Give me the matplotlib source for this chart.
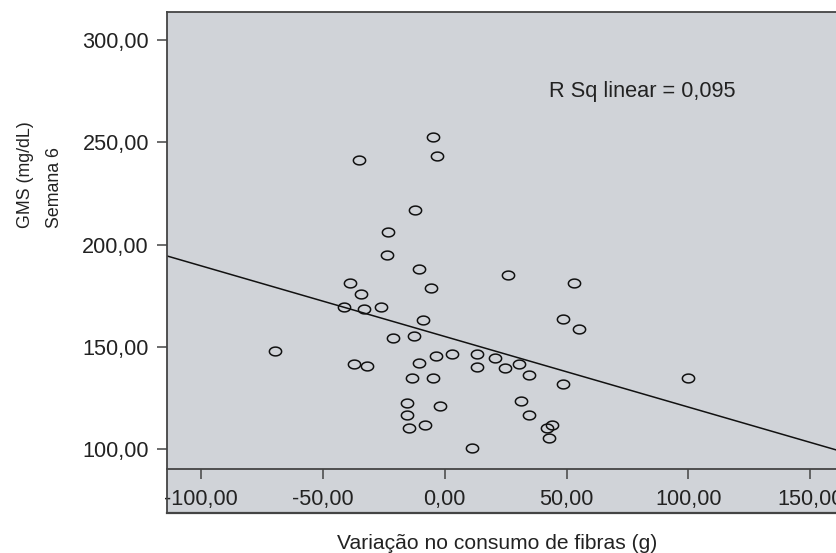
import numpy as np
import matplotlib
matplotlib.use("Agg")
import matplotlib.pyplot as plt
from matplotlib.path import Path

plt.rcParams['font.family'] = ['Liberation Sans', 'DejaVu Sans']

# change in fibre intake (g) vs fasting glucose at week 6 (mg/dL)
fibras = [-4.9, -3.2, -35.3, -12.4, -23.1, -23.9, -10.4, -5.6, -39.0, -34.4,
          -41.2, -33.0, -26.0, -9.1, -21.3, -12.7, -69.8, -3.4, 3.1, -37.2,
          -32.0, -10.4, -13.4, -4.7, -15.3, -2.0, -15.3, -14.5, -8.1, 26.0,
          53.2, 48.6, 55.3, 13.4, 20.5, 30.5, 13.4, 24.6, 34.5, 48.6,
          31.4, 34.5, 42.1, 44.0, 42.9, 11.0, 100.0]
gms = [252.5, 243.2, 241.5, 217.1, 206.0, 195.0, 187.9, 178.5, 181.1, 175.6,
       169.4, 168.4, 169.6, 163.1, 154.5, 155.4, 148.1, 145.3, 146.5, 141.6,
       140.8, 142.0, 134.6, 134.6, 122.4, 121.0, 116.5, 110.5, 111.7, 185.0,
       181.1, 163.7, 158.7, 146.5, 144.5, 141.6, 140.3, 139.5, 136.0, 132.0,
       123.7, 116.5, 110.5, 111.8, 105.4, 100.5, 134.6]

xticks = [-100, -50, 0, 50, 100, 150]
yticks = [100, 150, 200, 250, 300]
r2_text = "R Sq linear = 0,095"

xlim = (-114, 161)
ylim = (68.7, 313.7)

# open ellipse marker
t = np.linspace(0, 2 * np.pi, 60)
ellipse = Path(np.column_stack([np.cos(t), 0.72 * np.sin(t)]), closed=True)

fig = plt.figure(figsize=(8.37, 5.53), dpi=100)
ax = fig.add_axes([167 / 837, 40 / 553, 670 / 837, 501 / 553])
ax.set_facecolor('#d0d3d8')
ax.set_xlim(*xlim)
ax.set_ylim(*ylim)

ax.plot(fibras, gms, linestyle='none', marker=ellipse, markersize=8.8,
        markerfacecolor='none', markeredgecolor='#111111', markeredgewidth=1.1)

b, a = np.polyfit(fibras, gms, 1)
xs = np.array(xlim)
ax.plot(xs, a + b * xs, color='#111111', lw=1.1)

ax.text(42.7, 274.8, r2_text, fontsize=15.7, color='#222222', va='center')

spine_c = '#444444'
for s in ['left', 'top', 'bottom']:
    ax.spines[s].set_color(spine_c)
    ax.spines[s].set_linewidth(1.3)
ax.spines['right'].set_visible(False)
ax.spines['bottom'].set_position(('data', 90))
ax.plot([0, 1], [0, 0], transform=ax.transAxes, color=spine_c, lw=1.6, clip_on=False)

ax.set_xticks(xticks)
ax.set_xticklabels([f"{v:.2f}".replace('.', ',') for v in xticks])
ax.set_yticks(yticks)
ax.set_yticklabels([f"{v:.2f}".replace('.', ',') for v in yticks])
ax.tick_params(axis='both', direction='out', length=7.5, width=1.1, color=spine_c,
               labelsize=15.6, labelcolor='#222222')
ax.tick_params(axis='x', pad=6.5)
ax.tick_params(axis='y', pad=5.5)

fig.text(497 / 837, 4 / 553, "Variação no consumo de fibras (g)", fontsize=15.1,
         color='#222222', ha='center', va='baseline')
fig.text(40 / 837, (553 - 228) / 553, "GMS (mg/dL)\nSemana 6", fontsize=12.8,
         color='#222222', rotation=90, ha='center', va='bottom',
         multialignment='left', linespacing=1.95)

fig.savefig("out.png", dpi=100)
